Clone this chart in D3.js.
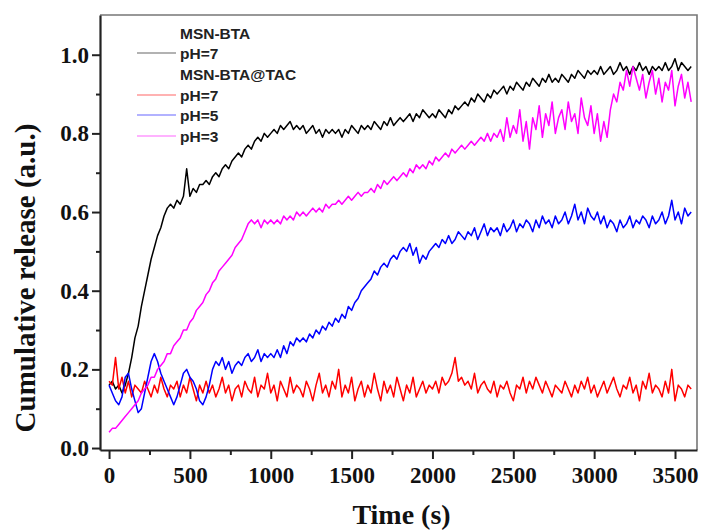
<!DOCTYPE html>
<html>
<head>
<meta charset="utf-8">
<script src="https://cdn.jsdelivr.net/npm/d3@7"></script>
<style>
  body { margin: 0; background: #fff; }
  .tick text { font-family: "Liberation Serif", "Times New Roman", serif; font-weight: bold; }
</style>
</head>
<body>
<div id="js-canvas"></div>
<script>
"use strict";

// Sampling step of the release curves, in seconds.
const timeStep = 20;

const xTicks = [0, 500, 1000, 1500, 2000, 2500, 3000, 3500];
const yTicks = [0.0, 0.2, 0.4, 0.6, 0.8, 1.0];

// MSN-BTA, pH=7
const blackPH7 = [
  0.16,0.17,0.15,0.16,0.14,0.16,0.19,0.23,0.28,0.31,
  0.36,0.40,0.44,0.48,0.51,0.54,0.56,0.59,0.61,0.62,
  0.61,0.63,0.62,0.64,0.71,0.64,0.66,0.65,0.67,0.67,
  0.68,0.67,0.69,0.70,0.69,0.71,0.72,0.71,0.73,0.74,
  0.75,0.74,0.76,0.77,0.76,0.78,0.79,0.78,0.80,0.79,
  0.80,0.81,0.80,0.82,0.81,0.82,0.83,0.81,0.82,0.81,
  0.82,0.80,0.81,0.82,0.80,0.81,0.79,0.81,0.80,0.81,
  0.80,0.81,0.79,0.81,0.80,0.82,0.81,0.80,0.82,0.81,
  0.82,0.81,0.83,0.82,0.81,0.83,0.82,0.84,0.82,0.83,
  0.84,0.83,0.84,0.85,0.83,0.85,0.84,0.86,0.85,0.84,
  0.85,0.84,0.86,0.85,0.84,0.86,0.85,0.87,0.86,0.87,
  0.88,0.87,0.89,0.88,0.90,0.89,0.88,0.90,0.89,0.91,
  0.90,0.91,0.92,0.90,0.92,0.91,0.93,0.92,0.91,0.93,
  0.92,0.94,0.93,0.92,0.94,0.93,0.95,0.93,0.94,0.93,
  0.95,0.94,0.93,0.95,0.94,0.96,0.95,0.94,0.96,0.95,
  0.96,0.95,0.97,0.95,0.96,0.97,0.95,0.96,0.98,0.96,
  0.97,0.95,0.97,0.96,0.98,0.96,0.97,0.95,0.97,0.96,
  0.97,0.96,0.98,0.96,0.97,0.99,0.96,0.98,0.97,0.96,
  0.97
];

// MSN-BTA@TAC, pH=7
const redPH7 = [
  0.17,0.16,0.23,0.15,0.18,0.14,0.17,0.13,0.16,0.15,
  0.14,0.17,0.15,0.13,0.16,0.14,0.18,0.15,0.13,0.16,
  0.15,0.17,0.13,0.16,0.14,0.18,0.15,0.12,0.16,0.14,
  0.17,0.14,0.16,0.13,0.15,0.18,0.14,0.16,0.12,0.15,
  0.16,0.13,0.17,0.15,0.14,0.18,0.13,0.16,0.15,0.19,
  0.14,0.16,0.12,0.17,0.15,0.13,0.18,0.14,0.16,0.15,
  0.13,0.17,0.15,0.12,0.16,0.19,0.14,0.16,0.13,0.17,
  0.15,0.20,0.13,0.16,0.14,0.18,0.12,0.15,0.17,0.13,
  0.16,0.14,0.19,0.15,0.12,0.17,0.14,0.16,0.13,0.18,
  0.15,0.12,0.16,0.14,0.18,0.13,0.15,0.17,0.14,0.16,
  0.15,0.17,0.14,0.18,0.16,0.17,0.19,0.23,0.17,0.18,
  0.16,0.17,0.15,0.19,0.14,0.16,0.17,0.15,0.14,0.17,
  0.13,0.16,0.15,0.17,0.14,0.12,0.16,0.15,0.18,0.14,
  0.17,0.15,0.18,0.16,0.14,0.17,0.15,0.13,0.16,0.15,
  0.14,0.17,0.15,0.13,0.16,0.14,0.17,0.15,0.18,0.14,
  0.16,0.13,0.15,0.17,0.14,0.16,0.18,0.15,0.13,0.16,
  0.15,0.18,0.14,0.16,0.12,0.17,0.15,0.19,0.14,0.16,
  0.15,0.13,0.17,0.14,0.20,0.12,0.16,0.15,0.13,0.16,
  0.15
];

// MSN-BTA@TAC, pH=5
const bluePH5 = [
  0.16,0.14,0.12,0.11,0.13,0.18,0.19,0.15,0.12,0.09,
  0.10,0.14,0.18,0.22,0.24,0.22,0.19,0.17,0.15,0.13,
  0.11,0.13,0.16,0.19,0.20,0.18,0.17,0.15,0.12,0.11,
  0.13,0.16,0.20,0.22,0.21,0.23,0.20,0.22,0.19,0.21,
  0.22,0.21,0.23,0.24,0.22,0.23,0.25,0.22,0.24,0.23,
  0.24,0.23,0.25,0.23,0.26,0.24,0.27,0.26,0.28,0.27,
  0.28,0.27,0.29,0.28,0.30,0.29,0.31,0.30,0.32,0.31,
  0.33,0.32,0.34,0.33,0.36,0.35,0.37,0.38,0.40,0.41,
  0.42,0.43,0.45,0.44,0.46,0.47,0.46,0.48,0.49,0.48,
  0.50,0.51,0.50,0.52,0.49,0.51,0.47,0.49,0.48,0.50,
  0.51,0.52,0.51,0.53,0.52,0.54,0.52,0.53,0.55,0.54,
  0.53,0.55,0.54,0.56,0.53,0.55,0.57,0.54,0.56,0.55,
  0.56,0.54,0.57,0.55,0.56,0.58,0.55,0.57,0.56,0.58,
  0.57,0.55,0.58,0.56,0.59,0.57,0.58,0.56,0.59,0.57,
  0.58,0.60,0.57,0.59,0.62,0.58,0.60,0.57,0.61,0.59,
  0.58,0.60,0.57,0.59,0.56,0.58,0.57,0.55,0.58,0.56,
  0.57,0.59,0.56,0.58,0.57,0.59,0.58,0.56,0.59,0.57,
  0.58,0.60,0.57,0.59,0.63,0.58,0.60,0.57,0.61,0.59,
  0.60
];

// MSN-BTA@TAC, pH=3
const magentaPH3 = [
  0.04,0.05,0.05,0.06,0.07,0.08,0.09,0.10,0.11,0.12,
  0.14,0.15,0.16,0.18,0.18,0.20,0.21,0.22,0.24,0.24,
  0.26,0.27,0.28,0.30,0.30,0.32,0.33,0.35,0.36,0.37,
  0.39,0.40,0.42,0.43,0.45,0.46,0.47,0.48,0.49,0.51,
  0.52,0.53,0.55,0.57,0.58,0.57,0.58,0.56,0.58,0.57,
  0.58,0.57,0.58,0.57,0.59,0.58,0.59,0.58,0.60,0.59,
  0.60,0.59,0.60,0.61,0.60,0.61,0.60,0.62,0.61,0.62,
  0.62,0.63,0.62,0.63,0.64,0.63,0.64,0.65,0.64,0.65,
  0.65,0.66,0.65,0.67,0.66,0.68,0.67,0.68,0.69,0.68,
  0.69,0.70,0.69,0.71,0.70,0.72,0.71,0.72,0.71,0.73,
  0.72,0.74,0.73,0.74,0.75,0.74,0.76,0.75,0.76,0.77,
  0.76,0.77,0.78,0.77,0.78,0.79,0.78,0.80,0.78,0.80,
  0.79,0.81,0.78,0.84,0.79,0.82,0.80,0.86,0.78,0.83,
  0.76,0.84,0.81,0.87,0.79,0.85,0.82,0.88,0.80,0.84,
  0.86,0.81,0.88,0.83,0.85,0.80,0.89,0.84,0.82,0.87,
  0.80,0.85,0.78,0.83,0.79,0.86,0.90,0.88,0.93,0.91,
  0.96,0.92,0.97,0.94,0.91,0.95,0.89,0.93,0.96,0.90,
  0.94,0.88,0.93,0.91,0.96,0.87,0.92,0.95,0.89,0.93,
  0.88
];

const seriesColors = ["#000000", "#ff0000", "#0000ff", "#ff00ff"];

const width = 701;
const height = 532;
const margin = { top: 15, right: 4, bottom: 80, left: 100 };

function createCanvas() {
  return d3.select("#js-canvas")
    .append("svg")
      .attr("width", width)
      .attr("height", height);
}

function toPoints(values) {
  return values.map(function (v, i) { return { t: i * timeStep, v: v }; });
}

const svg = createCanvas();

const x = d3.scaleLinear()
  .domain([-56, 3636])
  .range([margin.left, width - margin.right]);

const y = d3.scaleLinear()
  .domain([-0.005, 1.101])
  .range([height - margin.bottom - 2, margin.top]);

// data lines
const line = d3.line()
  .x(function (d) { return x(d.t); })
  .y(function (d) { return y(d.v); });

const series = [blackPH7, redPH7, bluePH5, magentaPH3];
const plot = svg.append("g");
series.forEach(function (s, i) {
  plot.append("path")
    .datum(toPoints(s))
    .attr("fill", "none")
    .attr("stroke", seriesColors[i])
    .attr("stroke-width", 1.5)
    .attr("stroke-linejoin", "round")
    .attr("d", line);
});

// frame: top and right in grey
const x0 = x.range()[0], x1 = x.range()[1];
const yb = y.range()[0], yt = y.range()[1];
svg.append("path")
  .attr("d", "M" + x0 + "," + yt + "H" + x1 + "V" + yb)
  .attr("fill", "none")
  .attr("stroke", "#777")
  .attr("stroke-width", 1.6);

// minor ticks
svg.append("g")
  .attr("transform", "translate(0," + yb + ")")
  .call(d3.axisBottom(x).tickValues(d3.range(250, 3600, 500)).tickSize(5).tickFormat(""))
  .call(function (g) { g.select(".domain").remove(); })
  .selectAll("line").attr("stroke", "#222").attr("stroke-width", 2);

svg.append("g")
  .attr("transform", "translate(" + x0 + ",0)")
  .call(d3.axisLeft(y).tickValues([0.1, 0.3, 0.5, 0.7, 0.9]).tickSize(4).tickFormat(""))
  .call(function (g) { g.select(".domain").remove(); })
  .selectAll("line").attr("stroke", "#222").attr("stroke-width", 2);

// major axes
const xAxis = svg.append("g")
  .attr("transform", "translate(0," + yb + ")")
  .call(d3.axisBottom(x).tickValues(xTicks).tickSize(9).tickSizeOuter(0).tickPadding(8).tickFormat(d3.format("d")));

const yAxis = svg.append("g")
  .attr("transform", "translate(" + x0 + ",0)")
  .call(d3.axisLeft(y).tickValues(yTicks).tickSize(8).tickSizeOuter(0).tickPadding(3).tickFormat(d3.format(".1f")));

[xAxis, yAxis].forEach(function (g) {
  g.select(".domain").attr("stroke", "#222").attr("stroke-width", 2.2);
  g.selectAll(".tick line").attr("stroke", "#222").attr("stroke-width", 2);
  g.selectAll(".tick text")
    .attr("fill", "#111")
    .style("font-size", "23px");
});

// axis titles
svg.append("text")
  .attr("x", (x0 + x1) / 2 + 3)
  .attr("y", 524)
  .attr("text-anchor", "middle")
  .style("font-family", "'Liberation Serif', 'Times New Roman', serif")
  .style("font-weight", "bold")
  .style("font-size", "28px")
  .attr("fill", "#111")
  .text("Time (s)");

svg.append("text")
  .attr("transform", "translate(35,278) rotate(-90)")
  .attr("text-anchor", "middle")
  .style("font-family", "'Liberation Serif', 'Times New Roman', serif")
  .style("font-weight", "bold")
  .style("font-size", "29px")
  .attr("fill", "#111")
  .text("Cumulative release (a.u.)");

// legend
const legendRows = [
  { label: "MSN-BTA", color: null, y: 33 },
  { label: "pH=7", color: seriesColors[0], y: 53 },
  { label: "MSN-BTA@TAC", color: null, y: 74 },
  { label: "pH=7", color: seriesColors[1], y: 95 },
  { label: "pH=5", color: seriesColors[2], y: 115 },
  { label: "pH=3", color: seriesColors[3], y: 136 }
];

const legend = svg.append("g");
legendRows.forEach(function (r) {
  if (r.color !== null) {
    legend.append("line")
      .attr("x1", 137).attr("x2", 176)
      .attr("y1", r.y).attr("y2", r.y)
      .attr("stroke", r.color)
      .attr("stroke-opacity", 0.6)
      .attr("stroke-width", 1.2);
  }
  legend.append("text")
    .attr("x", 180)
    .attr("y", r.y)
    .attr("dy", "0.36em")
    .style("font-family", "'Liberation Sans', Arial, sans-serif")
    .style("font-weight", "bold")
    .style("font-size", "15.5px")
    .attr("fill", "#222")
    .text(r.label);
});
</script>
</body>
</html>
